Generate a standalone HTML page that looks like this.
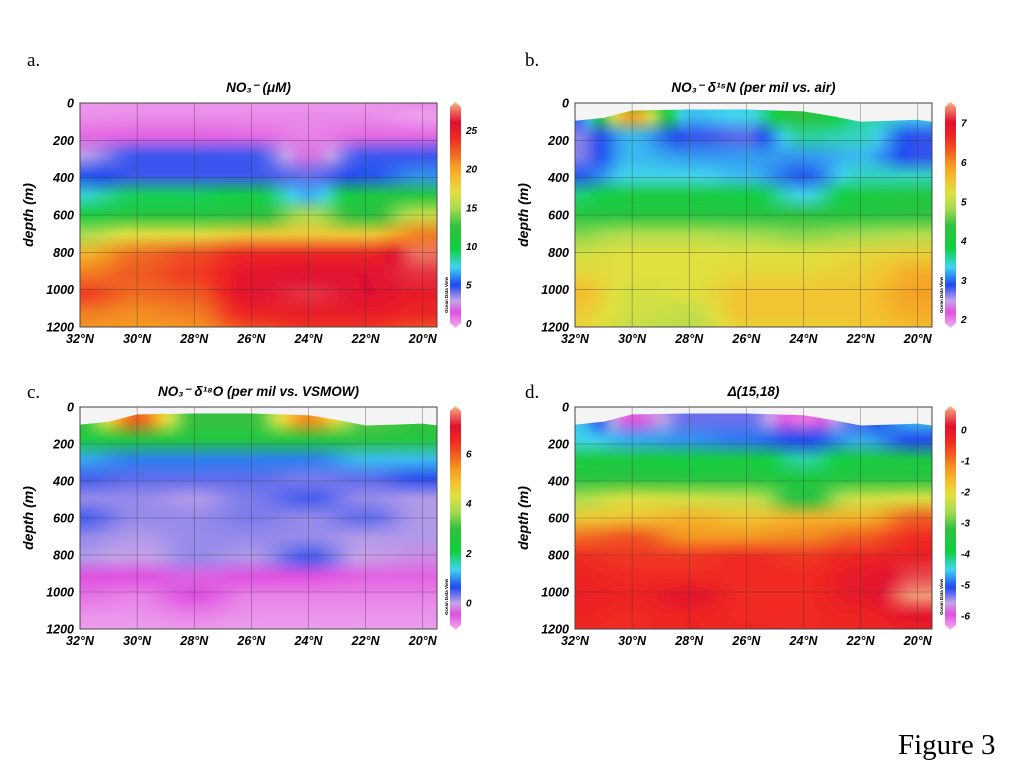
<!DOCTYPE html>
<html><head><meta charset="utf-8"><style>
body{margin:0;background:#fff;width:1024px;height:768px;overflow:hidden}
svg text{font-family:"Liberation Sans",sans-serif}
</style></head><body>
<svg id="fig" width="1024" height="768" viewBox="0 0 1024 768" xmlns="http://www.w3.org/2000/svg">
<text x="27" y="66" font-size="19" style="font-family:'Liberation Serif',serif">a.</text>
<text x="525" y="66" font-size="19" style="font-family:'Liberation Serif',serif">b.</text>
<text x="27" y="398" font-size="19" style="font-family:'Liberation Serif',serif">c.</text>
<text x="525" y="398" font-size="19" style="font-family:'Liberation Serif',serif">d.</text>
<text x="898" y="754" font-size="29" style="font-family:'Liberation Serif',serif">Figure 3</text>
</svg>
<script>
const NS="http://www.w3.org/2000/svg";
const svg=document.getElementById('fig');
const lats=[32,30,28,26,24,22,20];
const depths=[0,100,200,300,400,500,600,700,800,900,1000,1100,1200];
const latTicks=[32,30,28,26,24,22,20];
const depthTicks=[0,200,400,600,800,1000,1200];
const surfLats=[32,31,30,28,26,25,24,23,22,21,20,19.5];
const surfDepths=[95,80,40,35,35,40,45,70,100,95,90,100];
const no3=[
[0.5,0.5,0.5,0.5,0.5,0.5,1],
[0.7,0.8,0.8,0.8,0.8,0.8,0.4],
[1.5,1.6,1.6,1.5,1.0,1.5,1.5],
[3.5,5,5,5,2.5,5,5],
[5.5,5,5,5,4.5,5.5,6.5],
[8,9.5,9.5,10,7,11,11.5],
[10.5,11.5,11.5,12,15,12,16],
[15,17,17,18,18,18,21],
[19,21.5,22.5,24,24,24,27],
[21,22,23,25,25.5,25.5,26],
[23,21.5,22,25.5,26,25.5,24.5],
[21,20.5,21,24,24.5,24.5,24],
[20,20,20,22,23,23,22]];
const d15n=[
[3.0,4.3,3.4,3.4,4.2,3.5,3.4],
[3.0,5.8,3.3,3.4,4.3,3.6,3.4],
[2.7,3.3,2.9,2.8,3.6,3.5,2.9],
[2.7,3.3,3.2,3.2,3.2,3.3,2.9],
[3.0,3.4,3.4,3.3,3.0,3.5,3.5],
[3.7,4.0,4.0,3.9,3.4,4.0,4.1],
[4.2,4.2,4.2,4.2,4.3,4.2,4.3],
[4.7,4.9,4.9,4.8,4.7,4.8,4.9],
[5.1,5.2,5.2,5.2,5.2,5.3,5.4],
[5.3,5.2,5.2,5.3,5.3,5.4,5.7],
[5.6,5.1,5.2,5.5,5.5,5.5,5.8],
[5.4,5.1,5.0,5.5,5.5,5.5,5.7],
[5.3,5.0,4.9,5.3,5.3,5.4,5.5]];
const d18o=[
[3.0,5.6,3.0,3.0,5.2,3.0,3.0],
[3.0,5.8,3.0,3.0,5.4,3.2,3.0],
[2.4,2.6,2.6,2.6,2.6,2.8,2.6],
[1.2,1.0,1.0,1.0,1.0,1.3,1.3],
[0.6,0.5,0.5,0.5,0.4,0.5,0.7],
[0.3,0.3,0.2,0.4,0.6,0.3,0.2],
[0.6,0.3,0.3,0.4,0.3,0.5,0.2],
[0.3,0.2,0.3,0.3,0.3,0.2,0.2],
[0.2,0.1,0.3,0.2,0.6,0.1,0.0],
[-0.3,-0.3,-0.2,-0.3,-0.3,-0.4,-0.4],
[-0.5,-0.6,-0.3,-0.6,-0.6,-0.6,-0.6],
[-0.7,-0.7,-0.6,-0.7,-0.7,-0.7,-0.7],
[-0.8,-0.8,-0.8,-0.8,-0.8,-0.8,-0.8]];
const delta=[
[-4.4,-5.6,-5.2,-5.2,-5.8,-5.0,-4.6],
[-4.5,-5.8,-5.2,-5.2,-6.0,-5.1,-4.5],
[-4.4,-4.6,-4.7,-4.8,-5.0,-4.6,-5.0],
[-3.6,-3.7,-3.8,-3.7,-4.2,-3.7,-3.6],
[-3.4,-3.3,-3.4,-3.4,-3.6,-3.4,-3.4],
[-2.6,-2.2,-2.3,-2.4,-3.3,-2.3,-2.2],
[-1.9,-1.8,-1.6,-1.8,-1.6,-1.6,-0.9],
[-1.0,-0.8,-1.3,-1.3,-1.2,-0.9,-0.5],
[-0.5,-0.6,-0.6,-0.5,-0.6,-0.4,-0.3],
[-0.4,-0.5,-0.5,-0.5,-0.5,-0.2,0.2],
[-0.3,-0.4,-0.1,-0.5,-0.5,-0.2,0.5],
[-0.4,-0.5,-0.4,-0.5,-0.5,-0.4,-0.1],
[-0.5,-0.5,-0.4,-0.4,-0.5,-0.4,-0.4]];
const cmap=[[0,'#f0b4f0'],[0.07,'#e050e0'],[0.12,'#c4a4e8'],[0.19,'#2048f0'],[0.27,'#40d4f0'],[0.35,'#10d040'],[0.45,'#30c040'],[0.53,'#a8dc50'],[0.60,'#e0e040'],[0.66,'#f4c030'],[0.72,'#f49a20'],[0.78,'#f06020'],[0.84,'#f02a20'],[0.91,'#e01030'],[1,'#f8b484']];
function hex(h){return [1,3,5].map(i=>parseInt(h.substr(i,2),16));}
function col(t){t=Math.max(0,Math.min(1,t));for(let i=1;i<cmap.length;i++){if(t<=cmap[i][0]){const a=cmap[i-1],b=cmap[i];const f=(t-a[0])/(b[0]-a[0]);const A=hex(a[1]),B=hex(b[1]);return 'rgb('+A.map((v,k)=>Math.round(v+(B[k]-v)*f)).join(',')+')';}}return cmap[cmap.length-1][1];}
function mk(tag,attrs,parent){const e=document.createElementNS(NS,tag);for(const k in attrs)e.setAttribute(k,attrs[k]);(parent||svg).appendChild(e);return e;}
function valAt(data,j,lat){
  if(lat>=lats[0])return data[j][0];
  if(lat<=lats[lats.length-1])return data[j][lats.length-1];
  for(let i=1;i<lats.length;i++){if(lat>=lats[i]){const f=(lats[i-1]-lat)/(lats[i-1]-lats[i]);const s=f*f*(3-2*f);return data[j][i-1]+(data[j][i]-data[j][i-1])*s;}}
}
const panels=[
{id:'a',x:80,y:103,w:357,h:224,data:no3,min:0,max:28,ticks:[0,5,10,15,20,25],title:'NO₃⁻ (μM)',surf:false},
{id:'b',x:575,y:103,w:357,h:224,data:d15n,min:1.9,max:7.4,ticks:[2,3,4,5,6,7],title:'NO₃⁻ δ¹⁵N (per mil vs. air)',surf:true},
{id:'c',x:80,y:407,w:357,h:222,data:d18o,min:-0.9,max:7.7,ticks:[0,2,4,6],title:'NO₃⁻ δ¹⁸O (per mil vs. VSMOW)',surf:true},
{id:'d',x:575,y:407,w:357,h:222,data:delta,min:-6.3,max:0.6,ticks:[0,-1,-2,-3,-4,-5,-6],title:'Δ(15,18)',surf:true}];
const defs=mk('defs',{});
panels.forEach(p=>{
  const X=l=>p.x+(32-l)*p.w/12.5, Y=d=>p.y+d*p.h/1200;
  const T=v=>(v-p.min)/(p.max-p.min);
  const g=mk('g',{});  
  const cp=mk('clipPath',{id:'clip'+p.id},defs); mk('rect',{x:p.x,y:p.y,width:p.w,height:p.h},cp);
  const f=mk('filter',{id:'blur'+p.id,x:'-20%',y:'-20%',width:'140%',height:'140%'},defs); mk('feGaussianBlur',{stdDeviation:'4 1.5'},f);
  const field=mk('g',{'clip-path':'url(#clip'+p.id+')'},g);
   
  const inner=mk('g',{filter:'url(#blur'+p.id+')'},field);
  const step=3;
  for(let xx=p.x-15;xx<p.x+p.w+15;xx+=step){
    const lat=32-(xx+step/2-p.x)*12.5/p.w;
    const gid='gr'+p.id+'_'+xx;
    const gr=mk('linearGradient',{id:gid,x1:0,y1:0,x2:0,y2:1},defs);
    depths.forEach((d,j)=>mk('stop',{offset:d/1200,'stop-color':col(T(valAt(p.data,j,lat)))},gr));
    const r=mk('rect',{x:xx,y:p.y-6,width:step+0.6,height:p.h+12,fill:'url(#'+gid+')'},inner);
     
  }
  if(p.surf){
    let dpath='M'+p.x+','+p.y;
    surfLats.forEach((L,i)=>{dpath+=' L'+X(L).toFixed(1)+','+Y(surfDepths[i]).toFixed(1);});
    dpath+=' L'+(p.x+p.w)+','+p.y+' Z';
    const s=mk('path',{d:dpath,fill:'#f4f4f4'},field);
     
  }
  latTicks.forEach(L=>{const ln=mk('line',{x1:X(L),x2:X(L),y1:p.y,y2:p.y+p.h,stroke:'#333','stroke-width':0.6,opacity:0.55},g);
    const t=mk('text',{x:X(L),y:p.y+p.h+16,'text-anchor':'middle','font-size':12.5,'font-weight':'bold','font-style':'italic'},g);t.textContent=L+'°N';});
  depthTicks.forEach(d=>{const ln=mk('line',{x1:p.x,x2:p.x+p.w,y1:Y(d),y2:Y(d),stroke:'#333','stroke-width':0.6,opacity:0.55},g);
    const t=mk('text',{x:p.x-6,y:Y(d)+4.5,'text-anchor':'end','font-size':12.5,'font-weight':'bold','font-style':'italic'},g);t.textContent=d;});
  const fr=mk('rect',{x:p.x,y:p.y,width:p.w,height:p.h,fill:'none',stroke:'#444','stroke-width':1},g);
  const yt=mk('text',{x:0,y:0,transform:'translate('+(p.x-47)+','+(p.y+p.h/2)+') rotate(-90)','text-anchor':'middle','font-size':14,'font-weight':'bold','font-style':'italic'},g);yt.textContent='depth (m)';
  const tt=mk('text',{x:p.x+p.w/2,y:p.y-11,'text-anchor':'middle','font-size':13.5,'font-weight':'bold','font-style':'italic'},g);tt.textContent=p.title;
  const cx=p.x+p.w+13, cw=11, cy0=p.y+4, cy1=p.y+p.h-4;
  const cg=mk('linearGradient',{id:'cb'+p.id,x1:0,y1:1,x2:0,y2:0},defs);
  cmap.forEach(s=>mk('stop',{offset:s[0],'stop-color':s[1]},cg));
  const cb=mk('path',{d:`M${cx},${cy0} L${cx+cw/2},${cy0-5} L${cx+cw},${cy0} L${cx+cw},${cy1} L${cx+cw/2},${cy1+5} L${cx},${cy1} Z`,fill:'url(#cb'+p.id+')'},g);
   
  p.ticks.forEach(v=>{const yy=cy1-(cy1-cy0)*T(v);const t=mk('text',{x:cx+cw+5,y:yy+4,'font-size':10,'font-weight':'bold','font-style':'italic'},g);t.textContent=v;});
  const odv=mk('text',{x:0,y:0,transform:'translate('+(cx-2)+','+(cy1-10)+') rotate(-90)','font-size':4.5,'font-weight':'bold'},g);odv.textContent='Ocean Data View';
});
</script>
</body></html>
